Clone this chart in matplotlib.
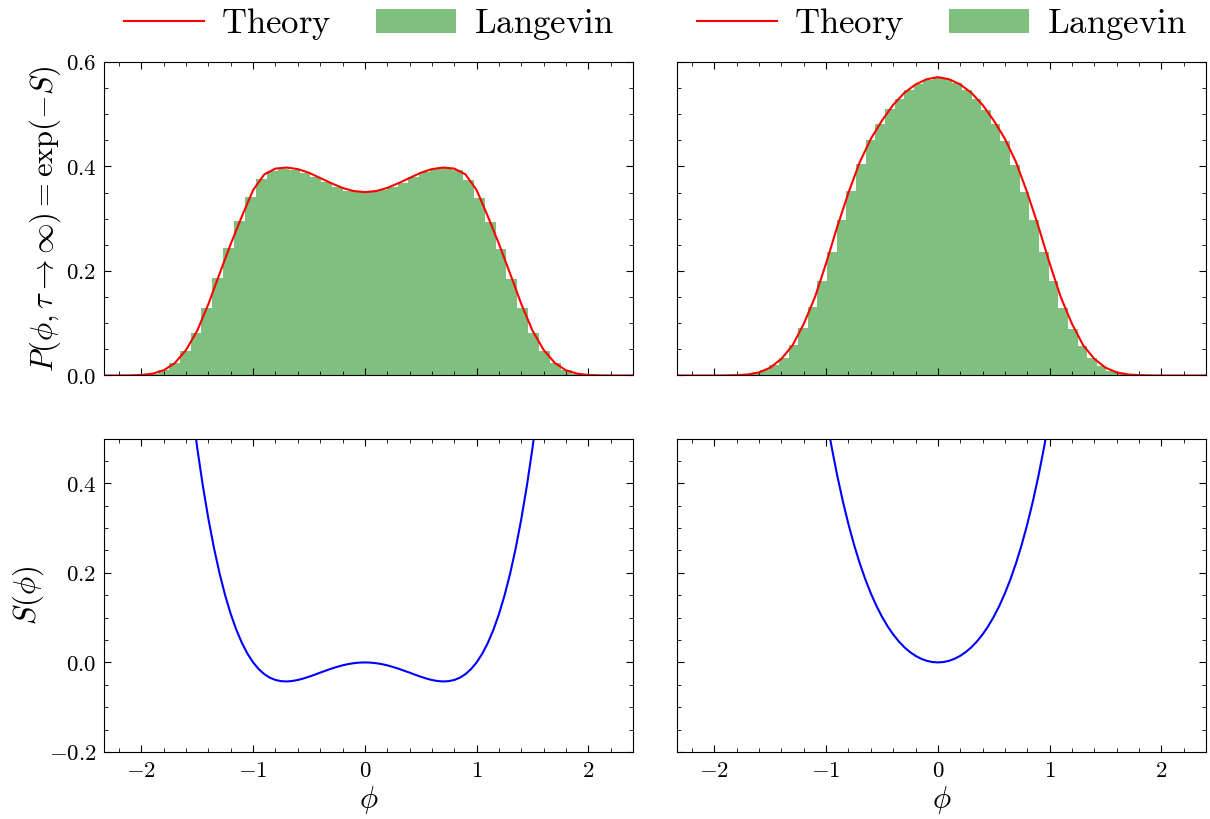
import numpy as np
import matplotlib
matplotlib.use("Agg")
import matplotlib.pyplot as plt
from matplotlib.ticker import MultipleLocator, AutoMinorLocator, FuncFormatter
from matplotlib.lines import Line2D
from matplotlib.patches import Patch

plt.rcParams.update({
    "mathtext.fontset": "cm",
    "font.family": "serif",
    "font.serif": ["DejaVu Serif"],
    "axes.linewidth": 0.8,
    "xtick.direction": "in",
    "ytick.direction": "in",
    "xtick.top": True,
    "ytick.right": True,
    "xtick.major.size": 5,
    "ytick.major.size": 5,
    "xtick.minor.size": 2.8,
    "ytick.minor.size": 2.8,
    "xtick.major.width": 0.8,
    "ytick.major.width": 0.8,
    "xtick.minor.width": 0.6,
    "ytick.minor.width": 0.6,
    "xtick.minor.visible": True,
    "ytick.minor.visible": True,
})

# theory curves P(phi) = exp(-S)/Z, sampled on phi = -2.4 ... 2.4 (step 0.1)
phi_p = np.linspace(-2.4, 2.4, 49)
p_double = [0.0, 0.0, 0.0001, 0.0003, 0.001, 0.0035, 0.010, 0.024, 0.049, 0.086,
            0.137, 0.195, 0.252, 0.305, 0.355, 0.385, 0.396, 0.398, 0.395, 0.388,
            0.378, 0.368, 0.359, 0.353, 0.351,
            0.353, 0.359, 0.368, 0.378, 0.388, 0.395, 0.398, 0.396, 0.385, 0.355,
            0.305, 0.252, 0.195, 0.137, 0.086, 0.049, 0.024, 0.010, 0.0035, 0.001,
            0.0003, 0.0001, 0.0, 0.0]
p_single = [0.0, 0.0, 0.0, 0.0, 0.0, 0.0002, 0.0007, 0.002, 0.006, 0.015,
            0.032, 0.058, 0.099, 0.150, 0.215, 0.285, 0.350, 0.408, 0.453, 0.488,
            0.518, 0.541, 0.557, 0.567, 0.571,
            0.567, 0.557, 0.541, 0.518, 0.488, 0.453, 0.408, 0.350, 0.285, 0.215,
            0.150, 0.099, 0.058, 0.032, 0.015, 0.006, 0.002, 0.0007, 0.0002, 0.0,
            0.0, 0.0, 0.0, 0.0]

# Langevin histograms (density per bin)
edges_double = np.linspace(-1.95, 1.95, 41)
hist_double = [0.003, 0.010, 0.024, 0.047, 0.082, 0.130, 0.186, 0.244, 0.296, 0.341,
               0.376, 0.392, 0.396, 0.394, 0.388, 0.380, 0.370, 0.360, 0.354, 0.351,
               0.352, 0.355, 0.361, 0.369, 0.379, 0.389, 0.395, 0.397, 0.393, 0.375,
               0.340, 0.294, 0.242, 0.185, 0.129, 0.081, 0.046, 0.023, 0.010, 0.003]
edges_single = np.linspace(-1.681, 1.681, 40)
hist_single = [0.004, 0.010, 0.020, 0.034, 0.058, 0.090, 0.131, 0.181, 0.237, 0.298,
               0.353, 0.404, 0.450, 0.482, 0.510, 0.530, 0.546, 0.558, 0.566,
               0.570,
               0.567, 0.559, 0.547, 0.529, 0.509, 0.481, 0.449, 0.403, 0.352, 0.297,
               0.236, 0.180, 0.130, 0.089, 0.057, 0.034, 0.019, 0.009, 0.004]

# actions S(phi)
phi_s_double = np.linspace(-1.6, 1.6, 65)
s_double = [0.6789, 0.5728, 0.4781, 0.3941, 0.3199, 0.2548, 0.1982, 0.1494, 0.1077, 0.0725,
            0.0432, 0.0192, 0.0, -0.0150, -0.0262, -0.0341, -0.0392, -0.0418, -0.0425, -0.0415,
            -0.0392, -0.0359, -0.0319, -0.0275, -0.0228, -0.0183, -0.0139, -0.0100, -0.0065, -0.0037,
            -0.0017, -0.0004, 0.0,
            -0.0004, -0.0017, -0.0037, -0.0065, -0.0100, -0.0139, -0.0183, -0.0228, -0.0275, -0.0319,
            -0.0359, -0.0392, -0.0415, -0.0425, -0.0418, -0.0392, -0.0341, -0.0262, -0.0150, 0.0,
            0.0192, 0.0432, 0.0725, 0.1077, 0.1494, 0.1982, 0.2548, 0.3199, 0.3941, 0.4781,
            0.5728, 0.6789]
phi_s_single = np.linspace(-1.05, 1.05, 43)
s_single = [0.6278, 0.5500, 0.4797, 0.4163, 0.3593, 0.3082, 0.2626, 0.2220, 0.1860, 0.1542,
            0.1263, 0.1019, 0.0807, 0.0625, 0.0470, 0.0339, 0.0232, 0.0147, 0.0082, 0.0036,
            0.0009, 0.0,
            0.0009, 0.0036, 0.0082, 0.0147, 0.0232, 0.0339, 0.0470, 0.0625, 0.0807, 0.1019,
            0.1263, 0.1542, 0.1860, 0.2220, 0.2626, 0.3082, 0.3593, 0.4163, 0.4797, 0.5500,
            0.6278]

fig, axes = plt.subplots(2, 2, figsize=(12.1, 8.19), dpi=100, sharex=True, sharey="row")
fig.subplots_adjust(left=104 / 1210, right=1206 / 1210, bottom=1 - 752 / 819,
                    top=1 - 62 / 819, wspace=0.0832, hspace=0.201)

panels = [(edges_double, hist_double, p_double, phi_s_double, s_double),
          (edges_single, hist_single, p_single, phi_s_single, s_single)]

for col, (edges, hist, p, phi_s, s) in enumerate(panels):
    ax_top = axes[0, col]
    ax_bot = axes[1, col]
    ax_top.stairs(hist, edges, fill=True, color="green", alpha=0.5, linewidth=0)
    ax_top.plot(phi_p, p, color="red", lw=1.5)
    ax_bot.plot(phi_s, s, color="blue", lw=1.5)

    handles = [Line2D([], [], color="red", lw=1.5),
               Patch(facecolor="green", alpha=0.5, edgecolor="none")]
    ax_top.legend(handles, [r"$\mathrm{Theory}$", r"$\mathrm{Langevin}$"],
                  loc="lower center", bbox_to_anchor=(0.5, 1.02), ncol=2,
                  frameon=False, fontsize=25, handlelength=2.3,
                  handletextpad=0.5, columnspacing=1.3, borderaxespad=0.0)
    ax_bot.set_xlabel(r"$\phi$", fontsize=22, labelpad=2)

fmt1 = FuncFormatter(lambda v, pos: r"$%.1f$" % v)
fmt0 = FuncFormatter(lambda v, pos: r"$%d$" % round(v))

for ax in axes.flat:
    ax.set_xlim(-2.335, 2.40)
    ax.xaxis.set_major_locator(MultipleLocator(1))
    ax.xaxis.set_minor_locator(AutoMinorLocator(5))
    ax.yaxis.set_major_locator(MultipleLocator(0.2))
    ax.yaxis.set_minor_locator(AutoMinorLocator(4))
    ax.xaxis.set_major_formatter(fmt0)
    ax.yaxis.set_major_formatter(fmt1)
    ax.tick_params(which="major", labelsize=16.5, pad=5.5)

axes[0, 0].set_ylim(0, 0.6)
axes[1, 0].set_ylim(-0.2, 0.5)
axes[0, 0].set_ylabel(r"$P(\phi, \tau \rightarrow \infty) = \exp(-S)$", fontsize=22, labelpad=2)
axes[1, 0].set_ylabel(r"$S(\phi)$", fontsize=22, labelpad=2)

fig.savefig("out.png", dpi=100)
